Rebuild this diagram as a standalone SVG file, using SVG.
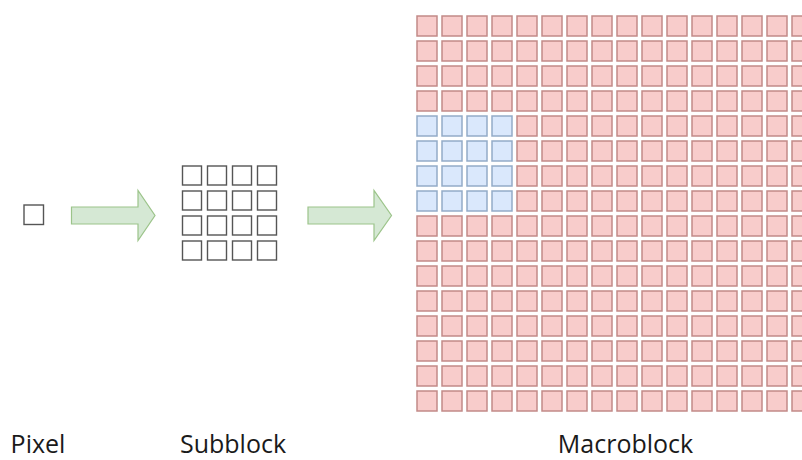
<svg xmlns="http://www.w3.org/2000/svg" width="802" height="460" viewBox="0 0 802 460">
  <style>
    .cell { fill: #ffffff; stroke: #555555; stroke-width: 1.4; }
    .arrow { fill: #d5e8d4; stroke: #9cc48a; stroke-width: 1.2; stroke-linejoin: miter; }
    .label { font-family: "Open Sans", "Liberation Sans", sans-serif; font-size: 25px; fill: #1a1a1a; text-anchor: middle; }
  </style>
  <defs>
    <!-- one cell of the macroblock grid, 25px pitch -->
    <pattern id="mbRed" x="416" y="15" width="25" height="25" patternUnits="userSpaceOnUse">
      <rect x="1" y="1" width="20" height="20" fill="#f8cccb" stroke="#c28a88" stroke-width="1.5"/>
    </pattern>
    <pattern id="mbBlue" x="416" y="15" width="25" height="25" patternUnits="userSpaceOnUse">
      <rect x="0" y="0" width="25" height="25" fill="#ffffff"/>
      <rect x="1" y="1" width="20" height="20" fill="#dae8fc" stroke="#93abc8" stroke-width="1.5"/>
    </pattern>
  </defs>

  <rect width="802" height="460" fill="#ffffff"/>

  <!-- single pixel -->
  <g id="pixel">
    <rect class="cell" x="24" y="205" width="19.5" height="19.5"/>
  </g>

  <!-- 4x4 subblock -->
  <g id="subblock">
    <rect class="cell" x="182.5" y="166" width="19" height="19"/>
    <rect class="cell" x="207.5" y="166" width="19" height="19"/>
    <rect class="cell" x="232.5" y="166" width="19" height="19"/>
    <rect class="cell" x="257.5" y="166" width="19" height="19"/>
    <rect class="cell" x="182.5" y="191" width="19" height="19"/>
    <rect class="cell" x="207.5" y="191" width="19" height="19"/>
    <rect class="cell" x="232.5" y="191" width="19" height="19"/>
    <rect class="cell" x="257.5" y="191" width="19" height="19"/>
    <rect class="cell" x="182.5" y="216" width="19" height="19"/>
    <rect class="cell" x="207.5" y="216" width="19" height="19"/>
    <rect class="cell" x="232.5" y="216" width="19" height="19"/>
    <rect class="cell" x="257.5" y="216" width="19" height="19"/>
    <rect class="cell" x="182.5" y="241" width="19" height="19"/>
    <rect class="cell" x="207.5" y="241" width="19" height="19"/>
    <rect class="cell" x="232.5" y="241" width="19" height="19"/>
    <rect class="cell" x="257.5" y="241" width="19" height="19"/>
  </g>

  <!-- 16x16 macroblock, one 4x4 subblock highlighted -->
  <g id="macroblock">
    <rect x="416" y="15" width="386" height="400" fill="url(#mbRed)"/>
    <rect x="416" y="115" width="100" height="100" fill="url(#mbBlue)"/>
  </g>

  <!-- block arrows -->
  <g id="connectors">
    <path class="arrow" d="M71.5,207 H138 V190.5 L155,215.5 L138,240.5 V224 H71.5 Z"/>
    <path class="arrow" d="M308,207 H374 V190.5 L391.5,215.5 L374,240.5 V224 H308 Z"/>
  </g>

  <g id="labels">
    <text class="label" x="38" y="453">Pixel</text>
    <text class="label" x="233" y="453">Subblock</text>
    <text class="label" x="625.5" y="453">Macroblock</text>
  </g>
</svg>
